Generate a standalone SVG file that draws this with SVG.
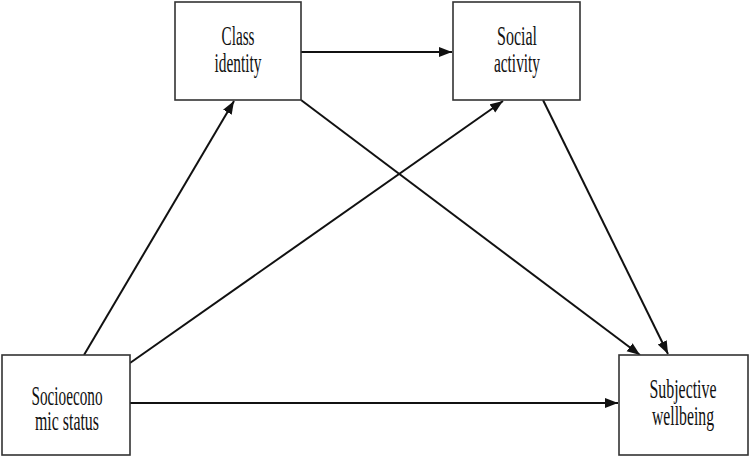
<svg xmlns="http://www.w3.org/2000/svg" width="750" height="457" viewBox="0 0 750 457">
<style>
.box{fill:#fff;stroke:#333;stroke-width:1.6}
.lbl{font-family:"Liberation Serif","Times New Roman",serif;font-size:27px;fill:#111;text-anchor:middle}
.edge{stroke:#111;stroke-width:2;fill:none;marker-end:url(#ah)}
</style>
<defs>
<marker id="ah" markerUnits="userSpaceOnUse" markerWidth="14" markerHeight="11" refX="13" refY="5" orient="auto">
<path d="M0,0 L13,5 L0,10 z" fill="#111"/>
</marker>
</defs>
<rect width="750" height="457" fill="#fff"/>
<g id="connectors">
<line class="edge" x1="301" y1="52" x2="452" y2="52"/>
<line class="edge" x1="84" y1="355" x2="234" y2="101"/>
<line class="edge" x1="130" y1="363" x2="503" y2="101"/>
<line class="edge" x1="301" y1="100" x2="640" y2="355"/>
<line class="edge" x1="543" y1="100" x2="668" y2="354"/>
<line class="edge" x1="130" y1="403" x2="618" y2="403"/>
</g>
<g id="class-identity">
<rect class="box" x="175" y="2" width="126" height="98"/>
<text class="lbl" x="238" y="45" textLength="33" lengthAdjust="spacingAndGlyphs">Class</text>
<text class="lbl" x="238" y="72" textLength="47" lengthAdjust="spacingAndGlyphs">identity</text>
</g>
<g id="social-activity">
<rect class="box" x="453" y="2" width="127" height="98"/>
<text class="lbl" x="517" y="45" textLength="40" lengthAdjust="spacingAndGlyphs">Social</text>
<text class="lbl" x="517" y="72" textLength="46" lengthAdjust="spacingAndGlyphs">activity</text>
</g>
<g id="socioeconomic-status">
<rect class="box" x="2" y="355" width="128" height="100"/>
<text class="lbl" x="67" y="405" textLength="71" lengthAdjust="spacingAndGlyphs">Socioecono</text>
<text class="lbl" x="67" y="430" textLength="64" lengthAdjust="spacingAndGlyphs">mic status</text>
</g>
<g id="subjective-wellbeing">
<rect class="box" x="619" y="355" width="129" height="100"/>
<text class="lbl" x="683" y="398" textLength="67" lengthAdjust="spacingAndGlyphs">Subjective</text>
<text class="lbl" x="683" y="425" textLength="62" lengthAdjust="spacingAndGlyphs">wellbeing</text>
</g>
</svg>
